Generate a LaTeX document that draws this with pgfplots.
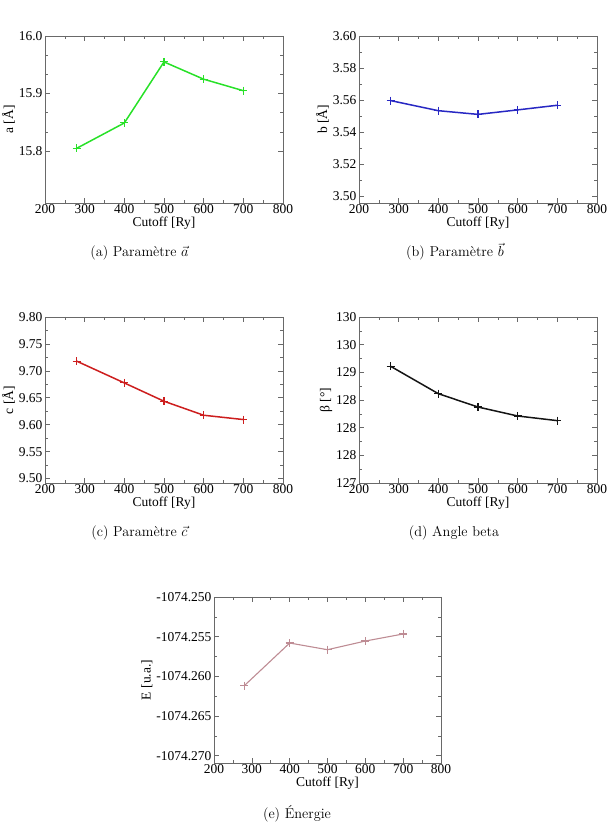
\documentclass[border=0pt]{standalone}
\usepackage{fontspec}
\usepackage{pgfplots}
\pgfplotsset{compat=1.18}
\newfontfamily\plotfont{Liberation Serif}
\newcommand\tickfont{\plotfont\fontsize{13.5}{15}\selectfont}
\definecolor{framegray}{RGB}{105,105,105}
\definecolor{cgreen}{RGB}{40,225,40}
\definecolor{cblue}{RGB}{40,40,195}
\definecolor{cred}{RGB}{205,30,30}
\definecolor{cblack}{RGB}{20,20,20}
\definecolor{crosy}{RGB}{190,140,148}
\pgfplotsset{
  xmg/.style={
    scale only axis, width=238pt, height=167pt, anchor=south west,
    xmin=200, xmax=800, xtick={200,300,...,800}, minor x tick num=1,
    axis line style={framegray, line width=0.7pt},
    every tick/.style={framegray, line width=0.6pt},
    tick align=inside, major tick length=5pt, minor tick length=3pt,
    tick label style={font=\tickfont, black},
    label style={font=\tickfont, black},
    xticklabel style={yshift=2pt},
    yticklabel style={xshift=1pt},
    xlabel={Cutoff [Ry]}, xlabel style={yshift=4pt},
    ylabel style={yshift=-3pt},
    /pgf/number format/assume math mode=true,
    /pgf/number format/1000 sep={},
    scaled ticks=false,
  },
  curve/.style={line width=1.5pt, mark=+, mark size=4pt,
    mark options={line width=1.1pt}},
}
\begin{document}
\begin{tikzpicture}
\useasboundingbox (0,0) rectangle (615pt,830pt);

% (a) lattice parameter a
\begin{axis}[xmg, at={(45pt,627pt)},
  ymin=15.71, ymax=16.0, ytick={15.8,15.9,16.0}, minor y tick num=2,
  yticklabel style={/pgf/number format/.cd, fixed, fixed zerofill, precision=1},
  ylabel={a [Å]}]
\addplot[curve, cgreen] coordinates {(280,15.805) (400,15.849) (500,15.955) (600,15.925) (700,15.905)};
\end{axis}

% (b) lattice parameter b
\begin{axis}[xmg, at={(359pt,627pt)},
  ymin=3.4956, ymax=3.60, ytick={3.50,3.52,...,3.61}, minor y tick num=1,
  yticklabel style={/pgf/number format/.cd, fixed, fixed zerofill, precision=2},
  ylabel={b [Å]}]
\addplot[curve, cblue] coordinates {(280,3.5596) (400,3.5533) (500,3.5510) (600,3.5538) (700,3.5567)};
\end{axis}

% (c) lattice parameter c
\begin{axis}[xmg, at={(45pt,347pt)}, height=166pt,
  ymin=9.4918, ymax=9.80, ytick={9.50,9.55,...,9.81}, minor y tick num=1,
  yticklabel style={/pgf/number format/.cd, fixed, fixed zerofill, precision=2},
  ylabel={c [Å]}]
\addplot[curve, cred] coordinates {(280,9.718) (400,9.6776) (500,9.6436) (600,9.6176) (700,9.6096)};
\end{axis}

% (d) monoclinic angle beta
\begin{axis}[xmg, at={(359pt,347pt)}, height=166pt,
  ymin=127, ymax=130, ytick={127,127.5,128,128.5,129,129.5,130},
  yticklabels={127,128,128,128,129,130,130}, minor y tick num=1,
  ylabel={β [°]}]
\addplot[curve, cblack] coordinates {(280,129.108) (400,128.614) (500,128.373) (600,128.211) (700,128.127)};
\end{axis}

% (e) total energy
\begin{axis}[xmg, at={(214pt,67pt)}, width=227pt, height=166pt,
  ymin=-1074.27092, ymax=-1074.250,
  ytick={-1074.270,-1074.265,-1074.260,-1074.255,-1074.250},
  yticklabels={-1074.270,-1074.265,-1074.260,-1074.255,-1074.250},
  minor y tick num=1,
  ylabel={E [u.a.]}]
\addplot[curve, crosy, line width=1.1pt] coordinates {(280,-1074.26118) (400,-1074.2558) (500,-1074.25664) (600,-1074.25555) (700,-1074.25466)};
\end{axis}

% sub-captions
\begin{scope}[every node/.style={anchor=base, font=\fontsize{14.3}{17}\selectfont, inner sep=0pt}]
\node at (139.5pt,573pt) {(a)\ Paramètre $\vec a$};
\node at (455pt,573pt) {(b)\ Paramètre $\vec b$};
\node at (139.5pt,293pt) {(c)\ Paramètre $\vec c$};
\node at (454pt,293pt) {(d)\ Angle beta};
\node at (297pt,11pt) {(e)\ Énergie};
\end{scope}
\end{tikzpicture}
\end{document}
